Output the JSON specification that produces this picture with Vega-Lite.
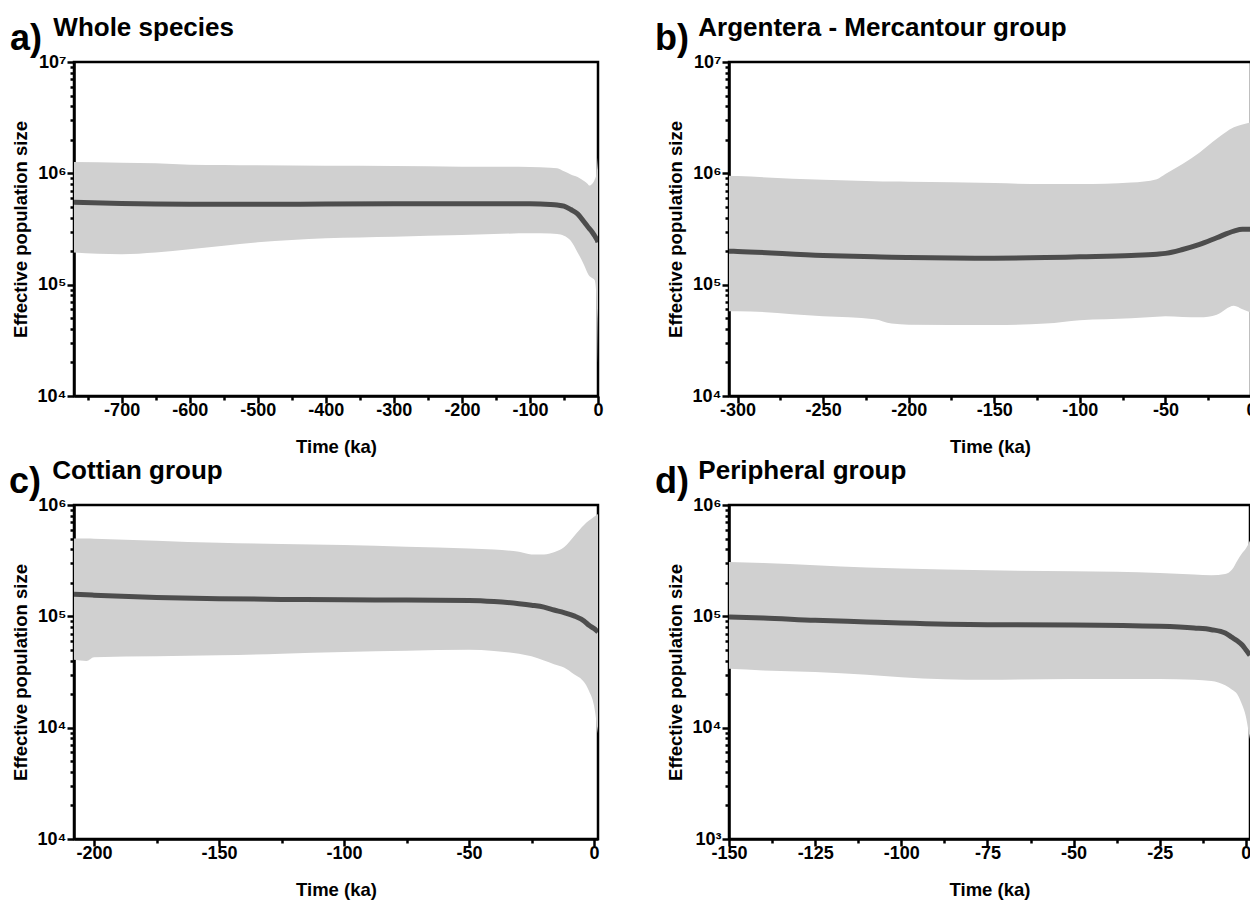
{
  "$schema": "https://vega.github.io/schema/vega-lite/v6.json",
  "padding": {"left": 7, "top": 13, "right": 0, "bottom": 0},
  "background": "white",
  "config": {
    "view": {"stroke": "black", "strokeWidth": 2.5},
    "axis": {
      "labelFont": "Liberation Sans", "labelFontSize": 18, "labelFontWeight": "bold", "labelColor": "black",
      "titleFont": "Liberation Sans", "titleFontSize": 18.5, "titleFontWeight": "bold", "titleColor": "black",
      "domainColor": "black", "domainWidth": 2.5, "tickColor": "black", "tickWidth": 2.5,
      "grid": false, "labelFlush": false, "labelOverlap": false, "zindex": 1
    },
    "title": {
      "font": "Liberation Sans", "fontSize": 36, "fontWeight": "bold", "color": "black",
      "anchor": "start", "frame": "group", "offset": -11,
      "subtitleFont": "Liberation Sans", "subtitleFontSize": 26, "subtitleFontWeight": "bold",
      "subtitleColor": "black", "subtitlePadding": -43
    }
  },
  "datasets": {
    "ne": [
      {"p":"a","t":-770,"lo":195000,"med":551000,"hi":1265000},
      {"p":"a","t":-700,"lo":188000,"med":537000,"hi":1247000},
      {"p":"a","t":-650,"lo":195000,"med":531000,"hi":1230000},
      {"p":"a","t":-600,"lo":208000,"med":528000,"hi":1197000},
      {"p":"a","t":-550,"lo":224000,"med":527000,"hi":1189000},
      {"p":"a","t":-500,"lo":240000,"med":527000,"hi":1180000},
      {"p":"a","t":-400,"lo":261000,"med":530000,"hi":1169000},
      {"p":"a","t":-300,"lo":270000,"med":532000,"hi":1164000},
      {"p":"a","t":-200,"lo":279000,"med":533000,"hi":1148000},
      {"p":"a","t":-100,"lo":289000,"med":532000,"hi":1140000},
      {"p":"a","t":-70,"lo":288000,"med":525000,"hi":1122000},
      {"p":"a","t":-60,"lo":285000,"med":519000,"hi":1109000},
      {"p":"a","t":-50,"lo":275000,"med":507000,"hi":1042000},
      {"p":"a","t":-40,"lo":248000,"med":473000,"hi":977000},
      {"p":"a","t":-30,"lo":195000,"med":433000,"hi":927000},
      {"p":"a","t":-20,"lo":148000,"med":363000,"hi":847000},
      {"p":"a","t":-15,"lo":126000,"med":331000,"hi":800000},
      {"p":"a","t":-13,"lo":120000,"med":320000,"hi":776000},
      {"p":"a","t":-10,"lo":116000,"med":305000,"hi":790000},
      {"p":"a","t":-5,"lo":110000,"med":275000,"hi":871000},
      {"p":"a","t":-2,"lo":74000,"med":257000,"hi":1000000},
      {"p":"a","t":-1,"lo":50000,"med":250000,"hi":1150000},
      {"p":"a","t":0,"lo":20000,"med":240000,"hi":1380000},

      {"p":"b","t":-305,"lo":57700,"med":200000,"hi":950000},
      {"p":"b","t":-300,"lo":57700,"med":199000,"hi":944000},
      {"p":"b","t":-250,"lo":52000,"med":183000,"hi":875000},
      {"p":"b","t":-220,"lo":49000,"med":178000,"hi":851000},
      {"p":"b","t":-210,"lo":44700,"med":176000,"hi":843000},
      {"p":"b","t":-200,"lo":43700,"med":175000,"hi":840000},
      {"p":"b","t":-150,"lo":43400,"med":173000,"hi":817000},
      {"p":"b","t":-120,"lo":44700,"med":175000,"hi":800000},
      {"p":"b","t":-100,"lo":47900,"med":178000,"hi":800000},
      {"p":"b","t":-70,"lo":50000,"med":183000,"hi":828000},
      {"p":"b","t":-55,"lo":51600,"med":188000,"hi":887000},
      {"p":"b","t":-50,"lo":52000,"med":191000,"hi":984000},
      {"p":"b","t":-40,"lo":51300,"med":207000,"hi":1210000},
      {"p":"b","t":-30,"lo":50900,"med":230000,"hi":1540000},
      {"p":"b","t":-20,"lo":53700,"med":264000,"hi":2040000},
      {"p":"b","t":-10,"lo":64600,"med":303000,"hi":2590000},
      {"p":"b","t":-5,"lo":60000,"med":314000,"hi":2750000},
      {"p":"b","t":0,"lo":56000,"med":314000,"hi":2880000},

      {"p":"c","t":-208,"lo":40700,"med":158000,"hi":501000},
      {"p":"c","t":-203,"lo":39800,"med":156000,"hi":500000},
      {"p":"c","t":-200,"lo":43000,"med":155000,"hi":498000},
      {"p":"c","t":-175,"lo":43700,"med":148000,"hi":478000},
      {"p":"c","t":-150,"lo":44600,"med":144000,"hi":457000},
      {"p":"c","t":-125,"lo":46200,"med":142000,"hi":447000},
      {"p":"c","t":-100,"lo":47800,"med":141000,"hi":437000},
      {"p":"c","t":-75,"lo":49000,"med":140000,"hi":422000},
      {"p":"c","t":-50,"lo":50000,"med":139000,"hi":407000},
      {"p":"c","t":-40,"lo":48800,"med":136000,"hi":398000},
      {"p":"c","t":-30,"lo":46100,"med":130000,"hi":380000},
      {"p":"c","t":-25,"lo":43700,"med":126000,"hi":360000},
      {"p":"c","t":-20,"lo":40200,"med":121000,"hi":360000},
      {"p":"c","t":-16,"lo":37200,"med":114000,"hi":376000},
      {"p":"c","t":-12,"lo":34700,"med":108000,"hi":417000},
      {"p":"c","t":-8,"lo":30200,"med":101000,"hi":525000},
      {"p":"c","t":-4,"lo":25700,"med":91000,"hi":661000},
      {"p":"c","t":-2,"lo":21400,"med":83000,"hi":724000},
      {"p":"c","t":0,"lo":15800,"med":77600,"hi":785000},
      {"p":"c","t":1.6,"lo":8900,"med":72400,"hi":832000},

      {"p":"d","t":-150,"lo":33800,"med":98600,"hi":308000},
      {"p":"d","t":-140,"lo":32700,"med":96600,"hi":302000},
      {"p":"d","t":-125,"lo":31600,"med":92000,"hi":288000},
      {"p":"d","t":-110,"lo":29900,"med":89100,"hi":275000},
      {"p":"d","t":-100,"lo":28400,"med":87100,"hi":269000},
      {"p":"d","t":-75,"lo":26900,"med":84100,"hi":259000},
      {"p":"d","t":-50,"lo":27400,"med":83600,"hi":254000},
      {"p":"d","t":-25,"lo":27400,"med":81300,"hi":245000},
      {"p":"d","t":-15,"lo":26900,"med":78500,"hi":237000},
      {"p":"d","t":-10,"lo":26300,"med":75900,"hi":234000},
      {"p":"d","t":-6,"lo":24000,"med":70800,"hi":240000},
      {"p":"d","t":-4,"lo":21900,"med":64600,"hi":263000},
      {"p":"d","t":-2.5,"lo":20000,"med":60300,"hi":316000},
      {"p":"d","t":-1,"lo":15800,"med":55000,"hi":372000},
      {"p":"d","t":0,"lo":12600,"med":50100,"hi":407000},
      {"p":"d","t":0.6,"lo":10000,"med":47400,"hi":437000},
      {"p":"d","t":1.2,"lo":7900,"med":44700,"hi":479000}
    ]
  },
  "columns": 2,
  "bounds": "flush",
  "spacing": {"row": 109, "column": 131},
  "concat": [
    {
      "width": 524, "height": 334,
      "title": {"text": "a)", "subtitle": "\u200b\u00a0\u00a0\u00a0\u00a0\u00a0\u00a0Whole species", "dx": -64},
      "data": {"name": "ne"},
      "transform": [{"filter": "datum.p == 'a'"}],
      "layer": [
        {
          "mark": {"type": "area", "color": "#d0d0d0", "clip": true, "interpolate": "monotone"},
          "encoding": {
            "x": {"field": "t", "type": "quantitative", "scale": {"domain": [-770, 0], "nice": false, "zero": false},
                  "axis": {"orient": "bottom", "values": [-700,-600,-500,-400,-300,-200,-100,0], "tickSize": 7, "labelPadding": -1.5, "labelExpr": "'' + datum.value", "title": "Time (ka)", "titlePadding": 17.5}},
            "y": {"field": "lo", "type": "quantitative", "scale": {"type": "log", "domain": [10000, 10000000], "nice": false},
                  "axis": {"orient": "left", "values": [10000, 100000, 1000000, 10000000], "tickSize": 7, "labelPadding": 1, "labelExpr": "'10' + (datum.value >= 1e7 ? '⁷' : datum.value >= 1e6 ? '⁶' : datum.value >= 1e5 ? '⁵' : '⁴')", "title": "Effective population size", "titlePadding": 7}},
            "y2": {"field": "hi"}
          }
        },
        {
          "mark": {"type": "line", "color": "#4d4d4d", "strokeWidth": 5, "clip": true, "interpolate": "monotone"},
          "encoding": {
            "x": {"field": "t", "type": "quantitative", "scale": {"domain": [-770, 0], "nice": false, "zero": false},
                  "axis": {"orient": "bottom", "values": [-750,-650,-550,-450,-350,-250,-150,-50], "tickSize": 4, "labels": false, "domain": false, "title": null}},
            "y": {"field": "med", "type": "quantitative", "scale": {"type": "log", "domain": [10000, 10000000], "nice": false},
                  "axis": {"orient": "left", "values": [20000,30000,40000,50000,60000,70000,80000,90000,200000,300000,400000,500000,600000,700000,800000,900000,2000000,3000000,4000000,5000000,6000000,7000000,8000000,9000000], "tickSize": 4, "labels": false, "domain": false, "title": null}}
          }
        }
      ],
      "resolve": {"axis": {"x": "independent", "y": "independent"}}
    },
    {
      "width": 522, "height": 334,
      "title": {"text": "b)", "subtitle": "\u200b\u00a0\u00a0\u00a0\u00a0\u00a0\u00a0Argentera - Mercantour group", "dx": -74},
      "data": {"name": "ne"},
      "transform": [{"filter": "datum.p == 'b'"}],
      "layer": [
        {
          "mark": {"type": "area", "color": "#d0d0d0", "clip": true, "interpolate": "monotone"},
          "encoding": {
            "x": {"field": "t", "type": "quantitative", "scale": {"domain": [-305, 0], "nice": false, "zero": false},
                  "axis": {"orient": "bottom", "values": [-300,-250,-200,-150,-100,-50,0], "tickSize": 7, "labelPadding": -1.5, "labelExpr": "'' + datum.value", "title": "Time (ka)", "titlePadding": 17.5}},
            "y": {"field": "lo", "type": "quantitative", "scale": {"type": "log", "domain": [10000, 10000000], "nice": false},
                  "axis": {"orient": "left", "values": [10000, 100000, 1000000, 10000000], "tickSize": 7, "labelPadding": 1, "labelExpr": "'10' + (datum.value >= 1e7 ? '⁷' : datum.value >= 1e6 ? '⁶' : datum.value >= 1e5 ? '⁵' : '⁴')", "title": "Effective population size", "titlePadding": 7}},
            "y2": {"field": "hi"}
          }
        },
        {
          "mark": {"type": "line", "color": "#4d4d4d", "strokeWidth": 5, "clip": true, "interpolate": "monotone"},
          "encoding": {
            "x": {"field": "t", "type": "quantitative", "scale": {"domain": [-305, 0], "nice": false, "zero": false},
                  "axis": {"orient": "bottom", "values": [-275,-225,-175,-125,-75,-25], "tickSize": 4, "labels": false, "domain": false, "title": null}},
            "y": {"field": "med", "type": "quantitative", "scale": {"type": "log", "domain": [10000, 10000000], "nice": false},
                  "axis": {"orient": "left", "values": [20000,30000,40000,50000,60000,70000,80000,90000,200000,300000,400000,500000,600000,700000,800000,900000,2000000,3000000,4000000,5000000,6000000,7000000,8000000,9000000], "tickSize": 4, "labels": false, "domain": false, "title": null}}
          }
        }
      ],
      "resolve": {"axis": {"x": "independent", "y": "independent"}}
    },
    {
      "width": 524, "height": 334,
      "title": {"text": "c)", "subtitle": "\u200b\u00a0\u00a0\u00a0\u00a0\u00a0\u00a0Cottian group", "dx": -65},
      "data": {"name": "ne"},
      "transform": [{"filter": "datum.p == 'c'"}],
      "layer": [
        {
          "mark": {"type": "area", "color": "#d0d0d0", "clip": true, "interpolate": "monotone"},
          "encoding": {
            "x": {"field": "t", "type": "quantitative", "scale": {"domain": [-208, 1.6], "nice": false, "zero": false},
                  "axis": {"orient": "bottom", "values": [-200,-150,-100,-50,0], "tickSize": 7, "labelPadding": -1.5, "labelExpr": "'' + datum.value", "title": "Time (ka)", "titlePadding": 17.5}},
            "y": {"field": "lo", "type": "quantitative", "scale": {"type": "log", "domain": [1000, 1000000], "nice": false},
                  "axis": {"orient": "left", "values": [1000, 10000, 100000, 1000000], "tickSize": 7, "labelPadding": 1, "labelExpr": "'10' + (datum.value >= 1e6 ? '⁶' : datum.value >= 1e5 ? '⁵' : '⁴')", "title": "Effective population size", "titlePadding": 7}},
            "y2": {"field": "hi"}
          }
        },
        {
          "mark": {"type": "line", "color": "#4d4d4d", "strokeWidth": 5, "clip": true, "interpolate": "monotone"},
          "encoding": {
            "x": {"field": "t", "type": "quantitative", "scale": {"domain": [-208, 1.6], "nice": false, "zero": false},
                  "axis": {"orient": "bottom", "values": [-175,-125,-75,-25], "tickSize": 4, "labels": false, "domain": false, "title": null}},
            "y": {"field": "med", "type": "quantitative", "scale": {"type": "log", "domain": [1000, 1000000], "nice": false},
                  "axis": {"orient": "left", "values": [2000,3000,4000,5000,6000,7000,8000,9000,20000,30000,40000,50000,60000,70000,80000,90000,200000,300000,400000,500000,600000,700000,800000,900000], "tickSize": 4, "labels": false, "domain": false, "title": null}}
          }
        }
      ],
      "resolve": {"axis": {"x": "independent", "y": "independent"}}
    },
    {
      "width": 521, "height": 334,
      "title": {"text": "d)", "subtitle": "\u200b\u00a0\u00a0\u00a0\u00a0\u00a0\u00a0Peripheral group", "dx": -74},
      "data": {"name": "ne"},
      "transform": [{"filter": "datum.p == 'd'"}],
      "layer": [
        {
          "mark": {"type": "area", "color": "#d0d0d0", "clip": true, "interpolate": "monotone"},
          "encoding": {
            "x": {"field": "t", "type": "quantitative", "scale": {"domain": [-150, 1.2], "nice": false, "zero": false},
                  "axis": {"orient": "bottom", "values": [-150,-125,-100,-75,-50,-25,0], "tickSize": 7, "labelPadding": -1.5, "labelExpr": "'' + datum.value", "title": "Time (ka)", "titlePadding": 17.5}},
            "y": {"field": "lo", "type": "quantitative", "scale": {"type": "log", "domain": [1000, 1000000], "nice": false},
                  "axis": {"orient": "left", "values": [1000, 10000, 100000, 1000000], "tickSize": 7, "labelPadding": 1, "labelExpr": "'10' + (datum.value >= 1e6 ? '⁶' : datum.value >= 1e5 ? '⁵' : datum.value >= 1e4 ? '⁴' : '³')", "title": "Effective population size", "titlePadding": 7}},
            "y2": {"field": "hi"}
          }
        },
        {
          "mark": {"type": "line", "color": "#4d4d4d", "strokeWidth": 5, "clip": true, "interpolate": "monotone"},
          "encoding": {
            "x": {"field": "t", "type": "quantitative", "scale": {"domain": [-150, 1.2], "nice": false, "zero": false},
                  "axis": {"orient": "bottom", "values": [-137.5,-112.5,-87.5,-62.5,-37.5,-12.5], "tickSize": 4, "labels": false, "domain": false, "title": null}},
            "y": {"field": "med", "type": "quantitative", "scale": {"type": "log", "domain": [1000, 1000000], "nice": false},
                  "axis": {"orient": "left", "values": [2000,3000,4000,5000,6000,7000,8000,9000,20000,30000,40000,50000,60000,70000,80000,90000,200000,300000,400000,500000,600000,700000,800000,900000], "tickSize": 4, "labels": false, "domain": false, "title": null}}
          }
        }
      ],
      "resolve": {"axis": {"x": "independent", "y": "independent"}}
    }
  ]
}
